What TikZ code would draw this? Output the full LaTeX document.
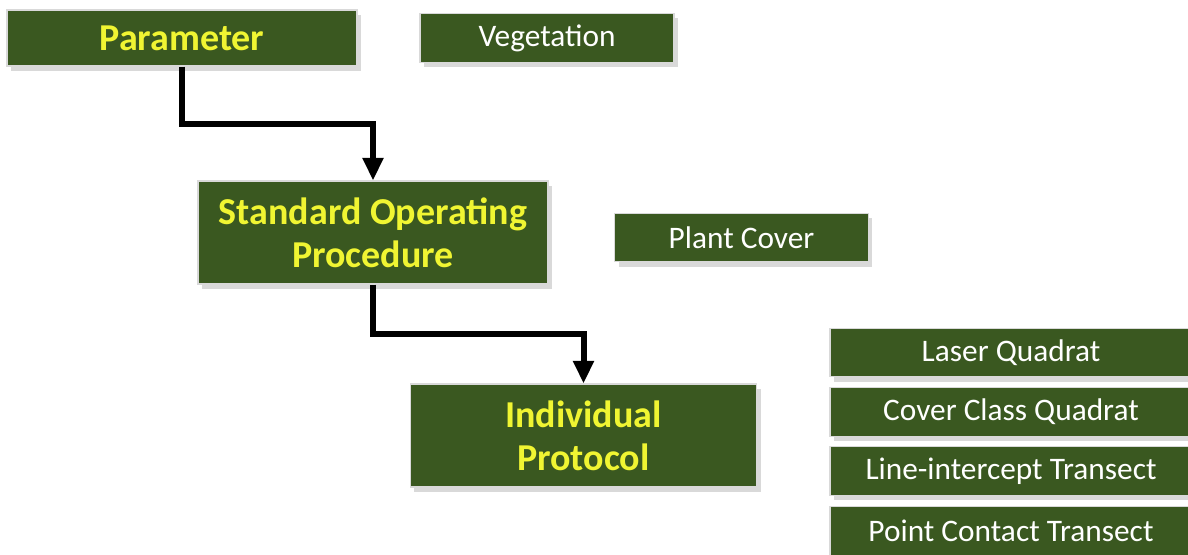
\documentclass[tikz,border=0pt]{standalone}
\usepackage{fontspec}
\setmainfont{Carlito}
\usetikzlibrary{arrows.meta,shadows,calc}
\definecolor{boxgreen}{RGB}{58,88,32}
\definecolor{labelyellow}{RGB}{240,245,50}
\tikzset{
    box/.style={draw=white!85!black, line width=0.8pt, fill=boxgreen, inner sep=0pt, align=center,
        drop shadow={shadow xshift=3pt, shadow yshift=-3.5pt, opacity=0.3}},
    levelBox/.style={box, text=labelyellow, font=\bfseries\fontsize{28.5}{32.5}\selectfont, minimum width=262.5pt},
    itemBox/.style={box, text=white, font=\fontsize{23.5}{26}\selectfont, minimum height=36.5pt},
    link/.style={line width=4.5pt, -{Triangle[length=17pt, width=15pt]}}
}
\newcommand{\elbowArrow}[2]{
    \draw[link] (#1.south) |- ($(#1.south)!0.5!(#2.north)$) -| (#2.north);
}

\begin{document}
\begin{tikzpicture}[x=0.75pt, y=-0.75pt]
    \useasboundingbox (0,0) rectangle (1188,554);

    \node[levelBox, minimum height=42pt] (param) at (182,38) {Parameter};
    \node[itemBox, minimum width=190.5pt] (veg) at (547,38) {Vegetation};
    \node[levelBox, minimum height=77.25pt] (sop) at (373,232.5) {Standard Operating\\Procedure};
    \node[itemBox, minimum width=190pt] (plant) at (741.5,237.5) {Plant Cover};
    \node[levelBox, minimum width=260pt, minimum height=77.25pt] (indiv) at (583.5,435.5) {Individual\\Protocol};

    \foreach \name/\y/\txt in {laser/352.5/Laser Quadrat, cover/412/Cover Class Quadrat,
        lineint/471/Line-intercept Transect, point/531/Point Contact Transect}
        \node[itemBox, minimum width=271.5pt] (\name) at (1011,\y) {\txt};

    \elbowArrow{param}{sop}
    \elbowArrow{sop}{indiv}
\end{tikzpicture}
\end{document}
